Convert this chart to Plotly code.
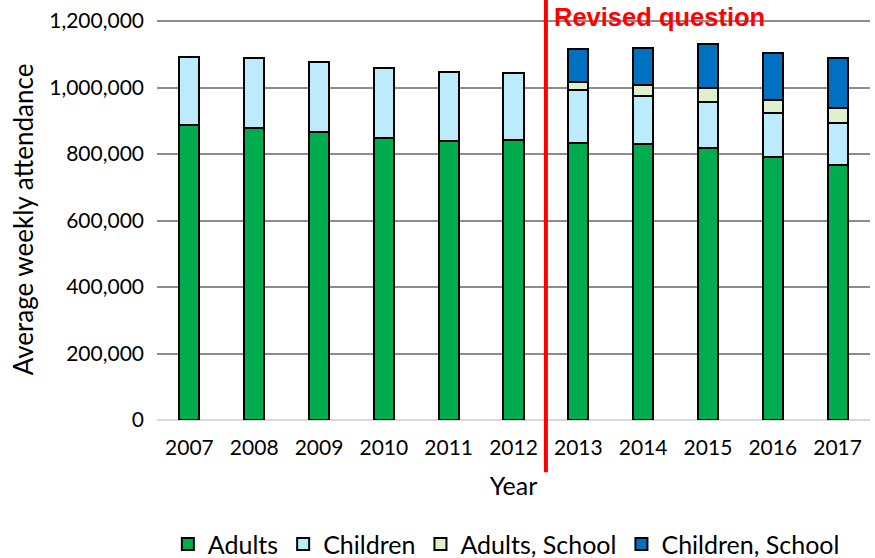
import plotly.graph_objects as go

# Year categories
years = ["2007", "2008", "2009", "2010", "2011", "2012",
         "2013", "2014", "2015", "2016", "2017"]

# Average weekly attendance
adults = [887000, 877000, 865000, 849000, 840000, 842000,
          832000, 829000, 818000, 791000, 768000]
children = [204000, 211000, 212000, 209000, 207000, 201000,
            160000, 144000, 139000, 131000, 126000]
adults_school = [0, 0, 0, 0, 0, 0, 25000, 35000, 40000, 40000, 45000]
children_school = [0, 0, 0, 0, 0, 0, 98000, 112000, 133000, 141000, 151000]

series = [
    ("Adults", adults, "#00AC4E"),
    ("Children", children, "#BDEBFE"),
    ("Adults, School", adults_school, "#DFF0CC"),
    ("Children, School", children_school, "#0070C0"),
]

font = "Lato, 'Noto Sans', sans-serif"

fig = go.Figure()
for name, vals, col in series:
    fig.add_trace(go.Bar(
        x=years, y=vals, name=name,
        marker=dict(color=col, line=dict(color="black", width=2)),
    ))

# revised question divider sits between 2012 and 2013
split = years.index("2013") - 0.5
fig.add_shape(type="line", xref="x", yref="paper", x0=split, x1=split,
              y0=-0.13, y1=1.1, line=dict(color="#FF0000", width=4))
fig.add_annotation(x=split, xref="x", y=1.047, yref="paper", text="<b>Revised question</b>",
                   showarrow=False, xanchor="left", yanchor="top", xshift=6, yshift=-1,
                   font=dict(family="Arial, 'Liberation Sans'", size=25.5, color="#FF0000"))

fig.update_layout(
    width=875, height=558,
    barmode="stack", bargap=0.69,
    plot_bgcolor="white", paper_bgcolor="white",
    margin=dict(l=157, r=5, t=19, b=138, autoexpand=False),
    font=dict(family=font, size=21, color="black"),
    showlegend=True,
    legend=dict(orientation="h", x=0.49, xanchor="center", y=-0.31, yanchor="middle",
                traceorder="normal", font=dict(size=25), itemwidth=30),
    xaxis=dict(title=dict(text="Year", standoff=19), showgrid=False,
               showline=False, ticks="", tickfont=dict(size=21), ticklabelstandoff=13),
    yaxis=dict(title=dict(text="Average weekly attendance", font=dict(size=26), standoff=8),
               range=[0, 1206000], tickvals=[0, 200000, 400000, 600000, 800000, 1000000, 1200000],
               tickformat=",d",
               showgrid=True, gridcolor="#8C8C8C", gridwidth=2,
               zeroline=True, zerolinecolor="#D9D9D9", zerolinewidth=2,
               ticks="", ticklabelstandoff=12, tickfont=dict(size=21)),
)

# drop the default body margin so the figure sits at the window's corner
fig.write_html("out.html", config={"displayModeBar": False},
               post_script="document.body.style.margin='0';")
